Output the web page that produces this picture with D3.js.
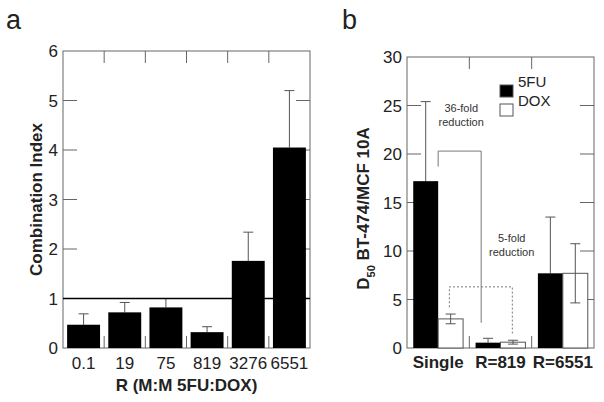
<!DOCTYPE html>
<html>
<head>
<meta charset="utf-8">
<script src="https://cdn.jsdelivr.net/npm/d3@7"></script>
<style>
  body { margin: 0; background: #fff; }
  svg { display: block; font-family: "Liberation Sans", Arial, sans-serif; }
</style>
</head>
<body>
<svg id="fig" width="604" height="402"></svg>
<script>
// panel a: combination index per ratio
const ciLabels = ["0.1", "19", "75", "819", "3276", "6551"];
const ciMean = [0.47, 0.72, 0.82, 0.32, 1.76, 4.05];
const ciErr = [0.22, 0.20, 0.18, 0.11, 0.58, 1.15];
const ciTicks = [0, 1, 2, 3, 4, 5, 6];

// panel b: D50 ratio, two drugs per group
const d50Groups = ["Single", "R=819", "R=6551"];
const d50Series = ["5FU", "DOX"];
const d50FU = [17.2, 0.55, 7.7];
const d50FUErr = [8.2, 0.45, 5.8];
const d50DOX = [3.0, 0.6, 7.7];
const d50DOXErr = [0.5, 0.2, 3.05];
const d50Ticks = [0, 5, 10, 15, 20, 25, 30];

const svg = d3.select("#fig");
const AX = "#666";

function frame(g, x0, x1, y0, y1, yTicks, yS, bandEdges) {
  // inward ticks on all four sides
  for (const t of yTicks) {
    if (t === yTicks[0] || t === yTicks[yTicks.length - 1]) continue;
    g.append("line").attr("x1", x0).attr("x2", x0 + 14).attr("y1", yS(t)).attr("y2", yS(t)).attr("stroke", AX);
    g.append("line").attr("x1", x1 - 14).attr("x2", x1).attr("y1", yS(t)).attr("y2", yS(t)).attr("stroke", AX);
  }
  for (const e of bandEdges) {
    g.append("line").attr("x1", e).attr("x2", e).attr("y1", y0).attr("y2", y0 + 12).attr("stroke", AX);
    g.append("line").attr("x1", e).attr("x2", e).attr("y1", y1 - 12).attr("y2", y1).attr("stroke", AX);
  }
  g.append("rect").attr("x", x0).attr("y", y0).attr("width", x1 - x0).attr("height", y1 - y0)
    .attr("fill", "none").attr("stroke", AX).attr("stroke-width", 1);
  for (const t of yTicks) {
    g.append("text").attr("x", x0 - 5).attr("y", yS(t) + 6).attr("text-anchor", "end")
      .attr("font-size", 17).attr("fill", "#222").text(t);
  }
}

function errBar(g, cx, lo, hi, yS, cap) {
  g.append("line").attr("x1", cx).attr("x2", cx).attr("y1", yS(lo)).attr("y2", yS(hi)).attr("stroke", "#555");
  g.append("line").attr("x1", cx - cap).attr("x2", cx + cap).attr("y1", yS(hi)).attr("y2", yS(hi)).attr("stroke", "#555");
}

// ---------- Panel a ----------
{
  const x0 = 63, x1 = 310, y0 = 51, y1 = 348;
  const g = svg.append("g");
  const yS = d3.scaleLinear([0, 6], [y1, y0]);
  const xS = d3.scaleBand(ciLabels, [x0, x1]).paddingInner(0.2).paddingOuter(0.1);
  const step = xS.step();
  const edges = ciLabels.slice(1).map(c => xS(c) - step * 0.1);

  frame(g, x0, x1, y0, y1, ciTicks, yS, edges);

  ciLabels.forEach((c, i) => {
    const cx = xS(c) + xS.bandwidth() / 2;
    errBar(g, cx, ciMean[i], ciMean[i] + ciErr[i], yS, 5);
    g.append("rect").attr("x", xS(c)).attr("y", yS(ciMean[i]))
      .attr("width", xS.bandwidth()).attr("height", yS(0) - yS(ciMean[i])).attr("fill", "#000");
    g.append("text").attr("x", cx).attr("y", y1 + 21).attr("text-anchor", "middle")
      .attr("font-size", 17).attr("fill", "#222").text(c);
  });

  // additivity line at CI = 1
  g.append("line").attr("x1", x0).attr("x2", x1).attr("y1", yS(1)).attr("y2", yS(1))
    .attr("stroke", "#000").attr("stroke-width", 1.6);

  g.append("text").attr("x", (x0 + x1) / 2).attr("y", 391).attr("text-anchor", "middle")
    .attr("font-size", 17).attr("font-weight", "bold").attr("fill", "#222").text("R (M:M 5FU:DOX)");
  g.append("text").attr("transform", `translate(42,${(y0 + y1) / 2}) rotate(-90)`)
    .attr("text-anchor", "middle").attr("font-size", 17).attr("font-weight", "bold").attr("fill", "#222")
    .text("Combination Index");
  g.append("text").attr("x", 6).attr("y", 29).attr("font-size", 27).attr("fill", "#222").text("a");
}

// ---------- Panel b ----------
{
  const x0 = 407, x1 = 594, y0 = 57, y1 = 348;
  const g = svg.append("g");
  const yS = d3.scaleLinear([0, 30], [y1, y0]);
  const xS = d3.scaleBand(d50Groups, [x0, x1]);
  const step = xS.step();
  const xSub = d3.scaleBand(d50Series, [step * 0.1, step * 0.9]);
  const edges = d50Groups.slice(1).map(c => xS(c));

  frame(g, x0, x1, y0, y1, d50Ticks, yS, edges);

  d50Groups.forEach((c, i) => {
    const fx = xS(c) + xSub("5FU"), dx = xS(c) + xSub("DOX"), w = xSub.bandwidth();
    errBar(g, fx + w / 2, d50FU[i], d50FU[i] + d50FUErr[i], yS, 5);
    g.append("rect").attr("x", fx).attr("y", yS(d50FU[i])).attr("width", w)
      .attr("height", yS(0) - yS(d50FU[i])).attr("fill", "#000");
    g.append("rect").attr("x", dx).attr("y", yS(d50DOX[i])).attr("width", w)
      .attr("height", yS(0) - yS(d50DOX[i])).attr("fill", "#fff").attr("stroke", "#555");
    errBar(g, dx + w / 2, d50DOX[i] - d50DOXErr[i], d50DOX[i] + d50DOXErr[i], yS, 5);
    g.append("line").attr("x1", dx + w / 2 - 5).attr("x2", dx + w / 2 + 5)
      .attr("y1", yS(d50DOX[i] - d50DOXErr[i])).attr("y2", yS(d50DOX[i] - d50DOXErr[i])).attr("stroke", "#555");
    g.append("text").attr("x", xS(c) + step / 2).attr("y", y1 + 20).attr("text-anchor", "middle")
      .attr("font-size", 17).attr("font-weight", "bold").attr("fill", "#222").text(c);
  });

  // reduction brackets (group, fraction of band, value)
  const brackets = [
    { pts: [["Single", 0.5, 18.7], ["Single", 0.5, 20.3], ["R=819", 0.19, 20.3], ["R=819", 0.19, 2.6]], dash: null },
    { pts: [["Single", 0.68, 4.2], ["Single", 0.68, 6.3], ["R=819", 0.69, 6.3], ["R=819", 0.69, 1.5]], dash: "2,2" }
  ];
  const line = d3.line().x(p => xS(p[0]) + p[1] * step).y(p => yS(p[2]));
  for (const b of brackets) {
    g.append("path").attr("d", line(b.pts)).attr("fill", "none").attr("stroke", "#777")
      .attr("stroke-dasharray", b.dash);
  }
  const notes = [
    { g: "Single", f: 0.87, v: 24.3, lines: ["36-fold", "reduction"] },
    { g: "R=819", f: 0.68, v: 10.9, lines: ["5-fold", "reduction"] }
  ];
  for (const n of notes) {
    n.lines.forEach((t, k) => {
      g.append("text").attr("x", xS(n.g) + n.f * step).attr("y", yS(n.v) + k * 13.5)
        .attr("text-anchor", "middle").attr("font-size", 11).attr("fill", "#333").text(t);
    });
  }

  // legend
  const lx = 500;
  [["5FU", "#000", 85], ["DOX", "#fff", 104]].forEach(([name, fill, y]) => {
    g.append("rect").attr("x", lx).attr("y", y).attr("width", 13).attr("height", 12)
      .attr("fill", fill).attr("stroke", "#555");
    g.append("text").attr("x", lx + 18).attr("y", y + 2).attr("font-size", 15).attr("fill", "#222").text(name);
  });

  const yl = g.append("text").attr("transform", `translate(369,${(y0 + y1) / 2 + 6}) rotate(-90)`)
    .attr("text-anchor", "middle").attr("font-size", 17).attr("font-weight", "bold").attr("fill", "#222");
  yl.append("tspan").text("D");
  yl.append("tspan").attr("font-size", 11).attr("dy", 6).text("50");
  yl.append("tspan").attr("dy", -6).text(" BT-474/MCF 10A");

  g.append("text").attr("x", 342).attr("y", 29).attr("font-size", 27).attr("fill", "#222").text("b");
}
</script>
</body>
</html>
